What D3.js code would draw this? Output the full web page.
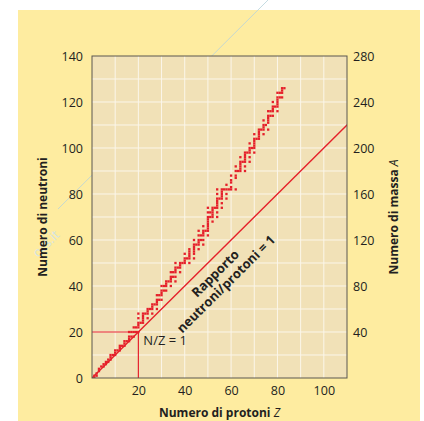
<!DOCTYPE html>
<html>
<head>
<meta charset="utf-8">
<script src="https://cdn.jsdelivr.net/npm/d3@7"></script>
<style>
  html, body { margin: 0; padding: 0; background: #fff; }
  svg { display: block; font-family: "Open Sans", "Noto Sans", sans-serif; }
</style>
</head>
<body>
<div id="chart"></div>
<script>
// stable nuclides: neutron numbers N for each proton number Z (index = Z)
const stableN = [
  [],
  [0, 1], [1, 2], [3, 4], [5], [5, 6], [6, 7], [7, 8], [8, 9, 10], [10], [10, 11, 12],
  [12], [12, 13, 14], [14], [14, 15, 16], [16], [16, 17, 18, 20], [18, 20], [18, 20, 22], [20, 22], [20, 22, 23, 24, 26, 28],
  [24], [24, 25, 26, 27, 28], [28], [26, 28, 29, 30], [30], [28, 30, 31, 32], [32], [30, 32, 33, 34, 36], [34, 36], [34, 36, 37, 38, 40],
  [38, 40], [38, 40, 41, 42], [42], [40, 42, 43, 44, 46], [44, 46], [42, 44, 46, 47, 48, 50], [48], [46, 48, 49, 50], [50], [50, 51, 52, 54],
  [52], [50, 52, 53, 54, 55, 56], [], [52, 54, 55, 56, 57, 58, 60], [58], [56, 58, 59, 60, 62, 64], [60, 62], [58, 60, 62, 63, 64, 66], [64], [62, 64, 65, 66, 67, 68, 69, 70, 72, 74],
  [70, 72], [68, 70, 71, 72, 73, 74], [74], [70, 72, 74, 75, 76, 77, 78, 80, 82], [78], [74, 76, 78, 79, 80, 81, 82], [82], [78, 80, 82, 84], [82], [82, 83, 85, 86, 88],
  [], [82, 87, 88, 90, 92], [90], [90, 91, 92, 93, 94, 96], [94], [90, 92, 94, 95, 96, 97, 98], [98], [94, 96, 98, 99, 100, 102], [100], [98, 100, 101, 102, 103, 104, 106],
  [104], [104, 105, 106, 107, 108], [108], [106, 108, 109, 110, 112], [110], [108, 111, 112, 113, 114, 116], [114, 116], [114, 116, 117, 118, 120], [118], [116, 118, 119, 120, 121, 122, 124],
  [122, 124], [122, 124, 125, 126], [126]
];

const xTicks = [20, 40, 60, 80, 100];
const yTicks = [0, 20, 40, 60, 80, 100, 120, 140];
const massTicks = [40, 80, 120, 160, 200, 240, 280];
const refZ = 20; // N/Z = 1 reference point

const nuclides = [];
stableN.forEach((ns, z) => ns.forEach(n => nuclides.push({ z, n })));

const width = 424, height = 421;
const svg = d3.select("#chart").append("svg")
  .attr("width", width)
  .attr("height", height);

const x = d3.scaleLinear().domain([0, 110]).range([92, 347]);
const y = d3.scaleLinear().domain([0, 140]).range([378, 56]);
const yMass = d3.scaleLinear().domain([0, 280]).range([378, 56]);

// page background
svg.append("rect")
  .attr("x", 18).attr("y", 10)
  .attr("width", 402).attr("height", 411)
  .attr("fill", "#feeca0");

// faint watermark
svg.append("line")
  .attr("x1", 58).attr("y1", 209).attr("x2", 268).attr("y2", 0)
  .attr("stroke", "#b8d4dc").attr("stroke-width", 1).attr("opacity", 0.8);
svg.append("text")
  .attr("transform", "translate(38,258) rotate(-45)")
  .attr("fill", "#d4e4e4")
  .attr("font-size", 13)
  .text("ocs.it");

// plot area
svg.append("rect")
  .attr("x", x(0)).attr("y", y(140))
  .attr("width", x(110) - x(0)).attr("height", y(0) - y(140))
  .attr("fill", "#f1e1b7");

const grid = svg.append("g").attr("stroke", "#fbf6ea").attr("stroke-width", 1);
grid.selectAll(".gx")
  .data(d3.range(10, 110, 10))
  .enter().append("line")
  .attr("x1", d => x(d)).attr("x2", d => x(d))
  .attr("y1", y(0)).attr("y2", y(140));
grid.selectAll(".gy")
  .data(d3.range(10, 140, 10))
  .enter().append("line")
  .attr("x1", x(0)).attr("x2", x(110))
  .attr("y1", d => y(d)).attr("y2", d => y(d));

svg.append("clipPath").attr("id", "plotClip")
  .append("rect")
  .attr("x", x(0)).attr("y", y(140))
  .attr("width", x(110) - x(0)).attr("height", y(0) - y(140));

const red = "#e5202a";
const plot = svg.append("g").attr("clip-path", "url(#plotClip)");

// N = Z line
plot.append("line")
  .attr("x1", x(0)).attr("y1", y(0))
  .attr("x2", x(120)).attr("y2", y(120))
  .attr("stroke", red).attr("stroke-width", 1.4);

// reference at Z = 20
plot.append("path")
  .attr("d", `M${x(0)},${y(refZ)}H${x(refZ)}V${y(0)}`)
  .attr("fill", "none")
  .attr("stroke", red).attr("stroke-width", 1.2);

// stable nuclides
const cw = x(1) - x(0), ch = y(0) - y(1);
plot.selectAll(".nuc")
  .data(nuclides)
  .enter().append("rect")
  .attr("class", "nuc")
  .attr("x", d => x(d.z) - cw / 2)
  .attr("y", d => y(d.n) - ch / 2)
  .attr("width", cw)
  .attr("height", ch)
  .attr("fill", red);

// plot frame
svg.append("rect")
  .attr("x", x(0)).attr("y", y(140))
  .attr("width", x(110) - x(0)).attr("height", y(0) - y(140))
  .attr("fill", "none")
  .attr("stroke", "#5a5650").attr("stroke-width", 1);

// axes
const styleAxis = g => {
  g.select(".domain").remove();
  g.selectAll(".tick line").remove();
  g.selectAll("text")
    .attr("fill", "#231f20")
    .attr("font-size", 12.5)
    .attr("font-family", "'Open Sans', 'Noto Sans', sans-serif");
};

svg.append("g")
  .attr("transform", `translate(${x(0)},0)`)
  .call(d3.axisLeft(y).tickValues(yTicks).tickSize(0).tickPadding(9))
  .call(styleAxis);

svg.append("g")
  .attr("transform", `translate(${x(110)},0)`)
  .call(d3.axisRight(yMass).tickValues(massTicks).tickSize(0).tickPadding(6))
  .call(styleAxis);

svg.append("g")
  .attr("transform", `translate(0,${y(0)})`)
  .call(d3.axisBottom(x).tickValues(xTicks).tickSize(0).tickPadding(8))
  .call(styleAxis);

// axis titles
svg.append("text")
  .attr("transform", `translate(47,${(y(0) + y(140)) / 2}) rotate(-90)`)
  .attr("text-anchor", "middle")
  .attr("font-size", 12).attr("font-weight", "bold")
  .attr("fill", "#231f20")
  .text("Numero di neutroni");

const massTitle = svg.append("text")
  .attr("transform", `translate(398,${(y(0) + y(140)) / 2}) rotate(-90)`)
  .attr("text-anchor", "middle")
  .attr("font-size", 12).attr("font-weight", "bold")
  .attr("fill", "#231f20");
massTitle.append("tspan").text("Numero di massa ");
massTitle.append("tspan").attr("font-style", "italic").attr("font-weight", "normal").text("A");

const zTitle = svg.append("text")
  .attr("x", (x(0) + x(110)) / 2).attr("y", 417)
  .attr("text-anchor", "middle")
  .attr("font-size", 12).attr("font-weight", "bold")
  .attr("fill", "#231f20");
zTitle.append("tspan").text("Numero di protoni ");
zTitle.append("tspan").attr("font-style", "italic").attr("font-weight", "normal").text("Z");

// annotations
svg.append("text")
  .attr("x", x(refZ) + 5).attr("y", y(refZ) + 13)
  .attr("font-size", 13)
  .attr("fill", "#231f20")
  .text("N/Z = 1");

const angle = Math.atan2(y(1) - y(0), x(1) - x(0)) * 180 / Math.PI;
const ratio = svg.append("text")
  .attr("transform", `translate(220,278) rotate(${angle})`)
  .attr("text-anchor", "middle")
  .attr("font-size", 13).attr("font-weight", "bold")
  .attr("fill", "#231f20");
ratio.append("tspan").attr("x", 0).attr("y", -2).text("Rapporto");
ratio.append("tspan").attr("x", 0).attr("y", 13).text("neutroni/protoni = 1");
</script>
</body>
</html>
